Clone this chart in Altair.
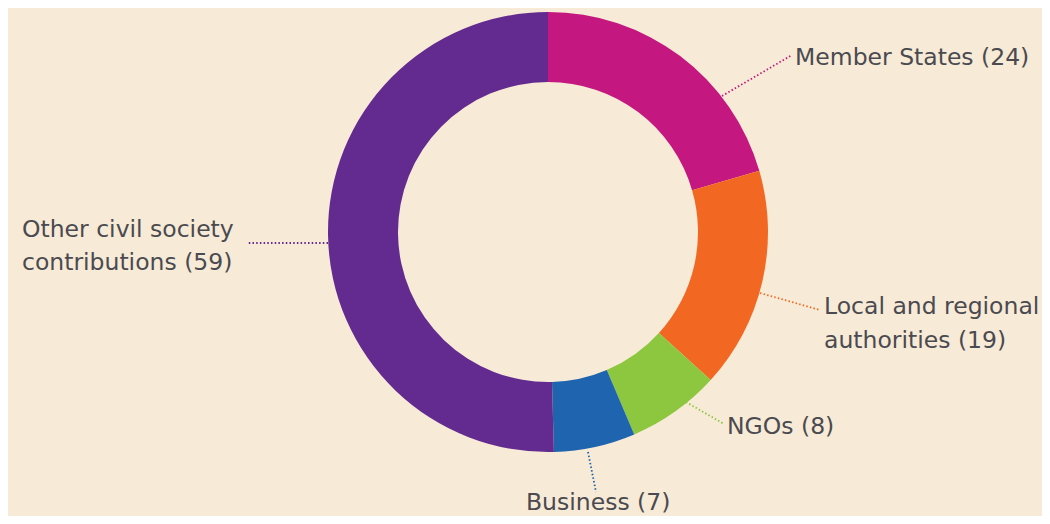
import altair as alt
import pandas as pd

# ---- data ----
categories = ["Member States", "Local and regional authorities", "NGOs", "Business",
              "Other civil society contributions"]
values = [24, 19, 8, 7, 59]
colors = ["#C4177F", "#F26822", "#8DC63F", "#1F64AF", "#632A8F"]

# label text lines (one row per line)
label_text = ["Member States (24)", "Local and regional", "authorities (19)", "NGOs (8)",
              "Business (7)", "Other civil society", "contributions (59)"]
label_cat = ["Member States", "Local and regional authorities", "Local and regional authorities",
             "NGOs", "Business", "Other civil society contributions",
             "Other civil society contributions"]
label_x = [787, 816, 816, 719, 518, 14, 14]
label_y = [50, 299, 333, 419, 495, 222, 255]

# leader lines (from ring edge to label)
lead_x1 = [714, 752, 678, 580, 320]
lead_y1 = [88, 285, 394, 444, 235]
lead_x2 = [784, 812, 716, 588, 240]
lead_y2 = [47, 302, 416, 484, 235]

CX, CY = 540, 224

df = pd.DataFrame({"cat": categories, "value": values, "order": list(range(len(values)))})
lab = pd.DataFrame({"text": label_text, "cat": label_cat, "x": label_x, "y": label_y})
lead = pd.DataFrame({"cat": categories, "x": lead_x1, "y": lead_y1, "x2": lead_x2, "y2": lead_y2})

color_scale = alt.Scale(domain=categories, range=colors)

ring = alt.Chart(df).mark_arc(radius=220, radius2=150, stroke=None).encode(
    theta=alt.Theta("value:Q", stack=True),
    order=alt.Order("order:Q"),
    color=alt.Color("cat:N", scale=color_scale, legend=None),
    x=alt.value(CX),
    y=alt.value(CY),
)

leaders = alt.Chart(lead).mark_rule(strokeDash=[1.5, 2.2], strokeWidth=1.8).encode(
    x=alt.X("x:Q", scale=None),
    y=alt.Y("y:Q", scale=None),
    x2="x2:Q",
    y2="y2:Q",
    color=alt.Color("cat:N", scale=color_scale, legend=None),
)

labels = alt.Chart(lab).mark_text(
    align="left", baseline="middle", font="DejaVu Sans", fontSize=23.5, color="#4A4A50"
).encode(
    x=alt.X("x:Q", scale=None),
    y=alt.Y("y:Q", scale=None),
    text="text:N",
)

chart = alt.layer(ring, leaders, labels).properties(
    width=1034, height=508, padding=0, autosize="none", background="#F7EAD6"
).configure_view(stroke=None)

chart.save("out.html", embed_options={"renderer": "svg", "actions": False})
